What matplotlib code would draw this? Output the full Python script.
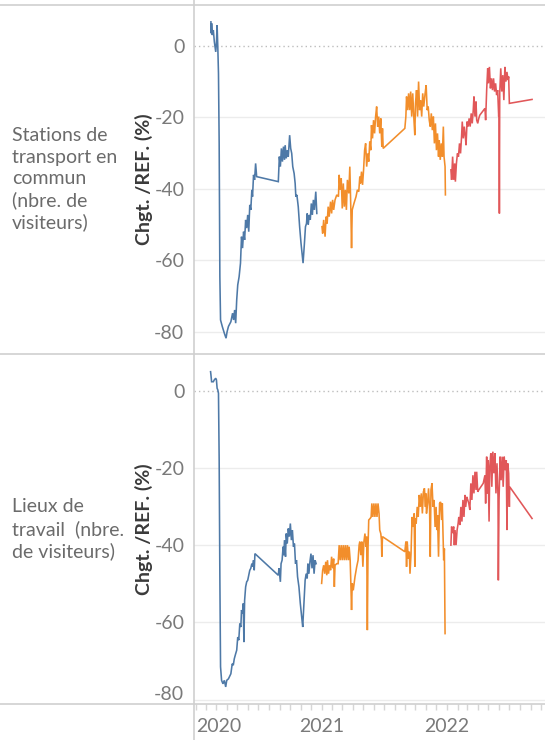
"""Mobility change vs. reference, transit stations and workplaces, 2020-2022."""

from datetime import datetime, timedelta

import matplotlib

matplotlib.use("Agg")
import matplotlib.dates as mdates
import matplotlib.pyplot as plt
from matplotlib.lines import Line2D

plt.rcParams["font.family"] = ["Lato", "DejaVu Sans"]

FIG_W, FIG_H = 545, 740
AXIS_X = 194
ROW_EDGES = [(4.7, 354.3), (354.3, 704.3)]

YEAR_COLORS = {2020: "#4e79a7", 2021: "#f28e2b", 2022: "#e15759"}
ROW_LABELS = [
    "Stations de\ntransport en\ncommun\n(nbre. de\nvisiteurs)",
    "Lieux de\ntravail  (nbre.\nde visiteurs)",
]
Y_LABEL = "Chgt. /REF. (%)"
Y_TICKS = [0, -20, -40, -60, -80]
X_TICK_LABELS = ["2020", "2021", "2022"]

# days after 1 January of the year, % change vs. reference
transit_2020_day = [44, 45, 46, 48, 51, 54, 58, 60, 62, 64, 66, 68, 70, 72, 77, 83, 88, 91, 95, 102,
                    107, 110, 113, 116, 119, 122, 126, 130, 133, 136, 139, 142, 145, 148, 151, 154, 157, 160, 163, 165,
                    168, 171, 174, 177, 240, 243, 246, 249, 252, 255, 258, 260, 263, 266, 269, 273, 276, 279, 282, 286,
                    289, 291, 294, 298, 302, 306, 312, 316, 319, 322, 324, 327, 330, 333, 336, 339, 342, 345, 349, 352]
transit_2020_pct = [6.7, 3.5, 6.3, 3.0, 4.4, 1.1, -1.7, 0.7, 5.8, -0.3, -7.7, -27.3, -64.6, -76.7, -78.5, -80.4, -81.8, -80.0, -78.5, -77.2,
                    -74.8, -76.7, -73.9, -77.6, -71.1, -66.9, -64.6, -60.8, -53.4, -56.6, -52.0, -54.3, -48.7, -51.0, -47.3, -52.0, -44.5, -45.9, -40.3, -42.2,
                    -36.1, -37.5, -32.9, -36.6, -38.0, -31.0, -33.8, -28.7, -32.4, -28.2, -31.9, -27.8, -31.5, -29.2, -31.0, -25.0, -28.7, -30.1, -33.8, -35.7,
                    -38.5, -42.2, -41.7, -45.0, -50.6, -55.2, -60.8, -55.2, -50.6, -49.7, -46.9, -50.1, -47.3, -48.7, -44.1, -47.3, -43.1, -45.9, -40.8, -46.9]

transit_2021_day = [1, 3, 6, 10, 13, 16, 19, 22, 26, 29, 32, 35, 39, 44, 49, 51, 54, 57, 60, 63,
                    66, 69, 72, 75, 79, 82, 85, 87, 89, 94, 100, 104, 108, 111, 113, 116, 119, 122, 125, 128,
                    131, 134, 137, 140, 143, 145, 148, 151, 154, 157, 160, 163, 166, 169, 172, 175, 177, 179, 242, 245,
                    247, 250, 253, 256, 259, 262, 265, 268, 271, 273, 276, 279, 282, 285, 288, 291, 294, 297, 301, 304,
                    307, 310, 313, 316, 319, 322, 325, 328, 331, 334, 337, 340, 342, 345, 348, 351, 354, 356, 359, 360]
transit_2021_pct = [-50.6, -52.5, -48.7, -53.4, -47.8, -49.7, -45.0, -47.8, -43.6, -46.9, -43.1, -45.9, -43.1, -41.7, -42.2, -36.1, -40.3, -37.1, -45.5, -38.5,
                    -45.0, -40.3, -45.9, -37.5, -41.3, -33.8, -45.9, -56.6, -45.9, -44.1, -42.2, -40.3, -40.8, -36.6, -38.5, -35.2, -38.9, -34.7, -29.2, -27.3,
                    -33.8, -30.1, -32.4, -26.8, -29.2, -22.2, -25.9, -20.8, -24.5, -19.8, -17.0, -22.6, -19.8, -24.5, -20.3, -28.2, -23.1, -28.7, -23.1, -19.8,
                    -14.2, -18.0, -13.3, -18.0, -12.8, -19.8, -13.3, -19.8, -25.0, -16.1, -12.4, -19.8, -10.0, -18.0, -15.2, -19.8, -13.3, -17.0, -13.3, -11.0,
                    -18.0, -17.0, -20.8, -22.6, -18.9, -23.6, -19.8, -27.3, -21.7, -29.2, -24.5, -31.0, -26.4, -31.9, -27.3, -31.0, -22.6, -31.0, -33.8, -41.7]

transit_2022_day = [11, 13, 16, 19, 22, 24, 27, 30, 33, 36, 39, 42, 44, 47, 50, 53, 55, 58, 61, 64,
                    67, 70, 73, 76, 78, 81, 84, 86, 89, 92, 95, 110, 112, 115, 118, 120, 123, 126, 129, 132,
                    135, 138, 141, 144, 147, 150, 151, 152, 153, 156, 159, 162, 165, 168, 171, 174, 177, 179, 181, 247]
transit_2022_pct = [-34.7, -37.5, -31.0, -37.5, -32.9, -38.0, -32.9, -30.1, -31.0, -27.3, -30.1, -25.4, -21.2, -25.9, -22.6, -25.4, -27.8, -21.2, -22.6, -20.3,
                    -22.6, -18.9, -21.7, -18.0, -14.2, -19.8, -15.6, -20.8, -21.7, -20.3, -19.4, -17.5, -20.8, -12.4, -6.3, -10.5, -5.9, -11.9, -9.1, -12.4,
                    -9.1, -12.8, -10.5, -13.8, -12.4, -19.8, -18.0, -46.9, -13.3, -6.3, -12.8, -8.2, -15.2, -5.9, -10.0, -7.3, -9.6, -8.6, -16.1, -15.0]

work_2020_day = [43, 44, 46, 51, 54, 58, 60, 62, 64, 66, 68, 70, 72, 75, 79, 83, 87, 90, 95, 102,
                 106, 109, 112, 116, 119, 122, 125, 128, 131, 133, 136, 138, 140, 142, 145, 148, 151, 154, 157, 160,
                 163, 165, 168, 170, 172, 240, 242, 246, 248, 251, 254, 256, 258, 261, 263, 266, 269, 272, 275, 278,
                 281, 284, 287, 290, 293, 296, 300, 304, 308, 311, 314, 318, 321, 324, 326, 329, 332, 335, 338, 341,
                 344, 347, 350]
work_2020_pct = [4.9, 4.1, 2.3, 2.3, 2.8, 3.2, 2.8, 0.6, 0.2, -0.7, -18.0, -48.2, -71.5, -75.0, -75.9, -75.0, -76.7, -75.0, -74.6, -73.3,
                 -70.7, -71.1, -69.4, -68.1, -67.2, -63.8, -64.6, -60.3, -61.2, -56.8, -57.7, -55.1, -65.1, -54.3, -50.8, -49.5, -49.1, -47.8, -46.5, -46.0,
                 -44.8, -45.6, -43.9, -46.5, -42.2, -47.8, -46.0, -49.5, -44.8, -43.9, -40.4, -42.6, -38.7, -43.0, -37.0, -39.6, -35.7, -37.8, -34.4, -38.7,
                 -36.1, -40.4, -39.6, -44.8, -43.9, -48.2, -50.8, -55.1, -58.6, -61.2, -56.0, -49.1, -47.4, -48.6, -44.8, -47.4, -44.3, -42.2, -46.0, -42.6,
                 -47.4, -43.9, -44.8]

work_2021_day = [0, 3, 6, 9, 12, 15, 17, 20, 23, 26, 29, 32, 35, 37, 39, 44, 48, 51, 54, 57,
                 60, 63, 66, 69, 72, 75, 78, 80, 83, 85, 87, 89, 92, 97, 102, 106, 109, 111, 114, 117,
                 120, 123, 126, 129, 131, 133, 135, 137, 141, 144, 146, 149, 152, 155, 158, 161, 164, 167, 169, 172,
                 174, 175, 177, 242, 245, 247, 249, 252, 255, 257, 260, 263, 266, 269, 271, 272, 275, 278, 281, 284,
                 287, 290, 293, 296, 299, 302, 303, 305, 308, 311, 314, 316, 318, 321, 324, 327, 330, 333, 335, 337,
                 340, 343, 346, 349, 351, 353, 355, 357, 359]
work_2021_pct = [-49.9, -46.5, -45.2, -47.4, -44.3, -47.8, -43.9, -47.4, -45.2, -46.5, -43.0, -46.0, -43.5, -50.8, -45.2, -44.8, -44.8, -40.0, -43.9, -40.0,
                 -43.9, -40.0, -43.9, -40.0, -43.9, -40.0, -43.9, -40.4, -43.9, -49.9, -56.8, -49.9, -51.7, -48.2, -45.6, -43.9, -40.0, -39.1, -42.6, -39.1,
                 -45.6, -39.1, -37.0, -40.4, -37.8, -62.0, -40.4, -33.5, -33.1, -32.7, -29.2, -32.7, -29.2, -32.7, -29.2, -32.7, -29.2, -31.8, -36.1, -37.0,
                 -38.7, -43.0, -37.8, -41.7, -39.1, -45.6, -39.1, -43.5, -41.7, -47.4, -42.2, -32.7, -35.3, -31.8, -45.6, -33.1, -34.4, -30.1, -32.7, -27.0,
                 -30.1, -26.6, -31.8, -26.2, -25.3, -30.1, -26.6, -31.8, -29.2, -25.3, -30.9, -43.0, -25.7, -24.0, -30.1, -28.3, -35.3, -30.1, -36.1, -32.2,
                 -43.0, -29.2, -28.8, -33.5, -29.2, -37.0, -43.9, -40.9, -62.9]

work_2022_day = [11, 13, 16, 19, 21, 23, 26, 29, 32, 34, 37, 40, 43, 46, 49, 52, 54, 57, 60, 63,
                 66, 69, 72, 75, 78, 81, 84, 86, 89, 92, 105, 110, 112, 115, 117, 119, 122, 124, 127, 130,
                 133, 136, 139, 142, 145, 148, 149, 151, 154, 157, 160, 163, 166, 169, 172, 174, 176, 179, 181, 182,
                 247]
work_2022_pct = [-40.0, -35.2, -36.9, -35.2, -40.0, -36.1, -40.0, -36.1, -34.4, -32.7, -34.8, -30.1, -33.9, -28.3, -32.7, -27.0, -30.1, -27.5, -28.3, -29.2,
                 -30.9, -24.0, -28.3, -21.9, -26.6, -21.0, -25.7, -21.0, -26.2, -25.7, -24.0, -21.9, -29.2, -17.1, -26.6, -18.0, -33.9, -19.7, -16.2, -24.9,
                 -15.8, -21.4, -16.2, -26.6, -18.8, -27.5, -49.1, -28.3, -17.1, -23.2, -17.1, -24.9, -17.1, -20.6, -18.0, -36.1, -18.8, -21.4, -30.1, -24.9,
                 -33.1]

ROWS = [
    {
        "label": ROW_LABELS[0],
        "ylim": (-86.3, 11.5),
        "series": {2020: (transit_2020_day, transit_2020_pct),
                   2021: (transit_2021_day, transit_2021_pct),
                   2022: (transit_2022_day, transit_2022_pct)},
    },
    {
        "label": ROW_LABELS[1],
        "ylim": (-81.2, 9.4),
        "series": {2020: (work_2020_day, work_2020_pct),
                   2021: (work_2021_day, work_2021_pct),
                   2022: (work_2022_day, work_2022_pct)},
    },
]

GRID_COLOR = "#ececec"
FRAME_COLOR = "#cfcfcf"
TICK_TEXT = "#7a7a7a"
HEADER_TEXT = "#6b6b6b"
TEXT_SIZE = 14


def to_dates(year, days):
    start = datetime(year, 1, 1)
    return [start + timedelta(days=d) for d in days]


def fx(px):
    return px / FIG_W


def fy(py):
    return 1 - py / FIG_H


def draw_row(fig, row, top_px, bottom_px, show_x):
    ax = fig.add_axes([fx(AXIS_X), fy(bottom_px), 1 - fx(AXIS_X), (bottom_px - top_px) / FIG_H])
    ax.set_facecolor("none")
    for spine in ax.spines.values():
        spine.set_visible(False)

    for year, (days, pct) in row["series"].items():
        ax.plot(to_dates(year, days), pct, color=YEAR_COLORS[year], lw=1.15, solid_joinstyle="miter", zorder=3)

    for v in Y_TICKS[1:]:
        ax.axhline(v, color=GRID_COLOR, lw=1.0, zorder=0)
    ax.axhline(0, color="#bdbdbd", lw=1.0, ls=(0, (1, 2.2)), zorder=0)

    ax.set_ylim(*row["ylim"])
    ax.set_xlim(datetime(2019, 12, 26, 19), datetime(2022, 10, 12, 16))
    ax.set_yticks(Y_TICKS)
    ax.set_yticklabels([str(v) for v in Y_TICKS])
    ax.tick_params(axis="y", length=0, pad=7, labelsize=TEXT_SIZE, labelcolor=TICK_TEXT)

    ax.xaxis.set_major_locator(mdates.YearLocator())
    ax.xaxis.set_minor_locator(mdates.MonthLocator())
    if show_x:
        ax.set_xticks([datetime(int(t), 1, 1) for t in X_TICK_LABELS])
        ax.set_xticklabels(X_TICK_LABELS)
        ax.tick_params(axis="x", which="both", length=4, width=1, color="#d6d6d6",
                       labelsize=TEXT_SIZE, labelcolor=TICK_TEXT, pad=6)
        ax.get_xticklabels()[0].set_horizontalalignment("left")
        ax.get_yticklabels()[-1].set_verticalalignment("baseline")
    else:
        ax.tick_params(axis="x", which="both", bottom=False, labelbottom=False)

    mid = fy((top_px + bottom_px) / 2)
    fig.text(fx(12), mid, row["label"], ha="left", va="center", fontsize=TEXT_SIZE,
             color=HEADER_TEXT, linespacing=1.3)
    fig.text(fx(144), mid, Y_LABEL, rotation=90, ha="center", va="center", fontsize=TEXT_SIZE,
             fontweight="bold", color="#3a3a3a")
    return ax


def main():
    fig = plt.figure(figsize=(FIG_W / 100, FIG_H / 100), dpi=100)
    for i, (top_px, bottom_px) in enumerate(ROW_EDGES):
        draw_row(fig, ROWS[i], top_px, bottom_px, show_x=(i == len(ROW_EDGES) - 1))

    for py in (ROW_EDGES[0][0], ROW_EDGES[0][1], ROW_EDGES[1][1]):
        fig.add_artist(Line2D([0, 1], [fy(py), fy(py)], color=FRAME_COLOR, lw=1.2))
    fig.add_artist(Line2D([fx(AXIS_X), fx(AXIS_X)], [0, 1], color=FRAME_COLOR, lw=1.2))

    fig.savefig("out.png", dpi=100)
    plt.close(fig)


if __name__ == "__main__":
    main()
